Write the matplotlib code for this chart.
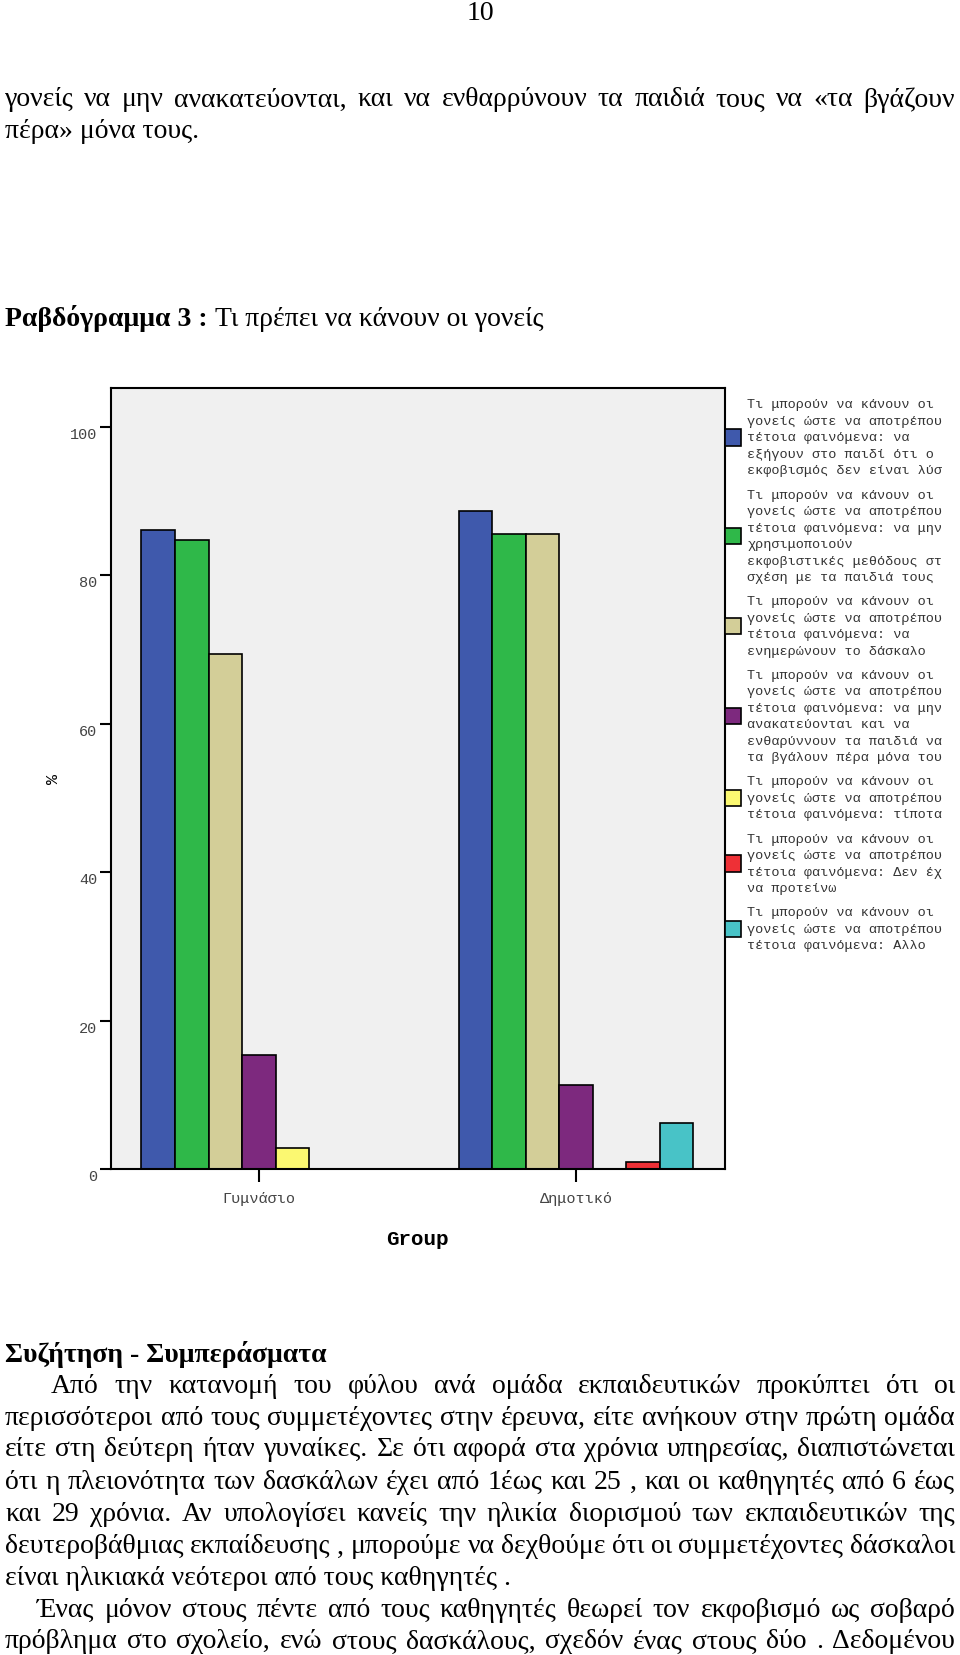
import matplotlib
matplotlib.use("Agg")
import numpy as np
import matplotlib.pyplot as plt
from matplotlib.font_manager import FontProperties

W, H = 960, 1656

# chart data
groups = ["Γυμνάσιο", "Δημοτικό"]
q = "Τι μπορούν να κάνουν οι\nγονείς ώστε να αποτρέπου\nτέτοια φαινόμενα: "
answer_labels = [
    q + "να\nεξήγουν στο παιδί ότι ο\nεκφοβισμός δεν είναι λύσ",
    q + "να μην\nχρησιμοποιούν\nεκφοβιστικές μεθόδους στ\nσχέση με τα παιδιά τους",
    q + "να\nενημερώνουν το δάσκαλο",
    q + "να μην\nανακατεύονται και να\nενθαρύννουν τα παιδιά να\nτα βγάλουν πέρα μόνα του",
    q + "τίποτα",
    q + "Δεν έχ\nνα προτείνω",
    q + "Αλλο",
]
gymnasio_pct = [86.1, 84.7, 69.4, 15.3, 2.8, 0.0, 0.0]
dimotiko_pct = [88.6, 85.5, 85.5, 11.3, 0.0, 1.0, 6.2]
colors = ["#3F59AC", "#2FB849", "#D3CE98", "#7D297E", "#FBF871", "#EE3036", "#48C3C7"]
y_ticks = [0, 20, 40, 60, 80, 100]

# page text around the chart
top_lines = [
    "γονείς να μην ανακατεύονται, και να ενθαρρύνουν τα παιδιά τους να «τα βγάζουν",
    "πέρα» μόνα τους.",
]
para_lines = [
    "Από την κατανομή του φύλου ανά ομάδα εκπαιδευτικών προκύπτει ότι οι",
    "περισσότεροι από τους συμμετέχοντες στην  έρευνα, είτε ανήκουν στην πρώτη ομάδα",
    "είτε στη δεύτερη ήταν γυναίκες. Σε ότι  αφορά στα χρόνια υπηρεσίας, διαπιστώνεται",
    "ότι η  πλειονότητα των δασκάλων έχει από 1έως και 25 ,  και οι καθηγητές  από 6 έως",
    "και 29  χρόνια. Αν υπολογίσει κανείς την ηλικία διορισμού των εκπαιδευτικών της",
    "δευτεροβάθμιας εκπαίδευσης , μπορούμε να δεχθούμε ότι οι συμμετέχοντες δάσκαλοι",
    "είναι ηλικιακά νεότεροι από τους καθηγητές .",
    "Ένας μόνον στους πέντε από τους καθηγητές θεωρεί τον εκφοβισμό ως σοβαρό",
    "πρόβλημα στο σχολείο, ενώ στους  δασκάλους, σχεδόν ένας στους δύο .  Δεδομένου",
]

fig = plt.figure(figsize=(W / 100, H / 100), dpi=100)
renderer = fig.canvas.get_renderer()
FS = 20
serif = dict(family="Liberation Serif", size=FS, color="black")


def text_line(y, s, x0=5, x1=955, justify=True, **kw):
    # one line of page text, stretched to the margins like the word processor does
    if not justify:
        return fig.text(x0 / W, 1 - y / H, s, va="center", ha="left", **kw)
    words = s.split()
    ts = [fig.text(0, 1 - y / H, w, va="center", ha="left", **kw) for w in words]
    ws = [t.get_window_extent(renderer).width for t in ts]
    gap = max((x1 - x0 - sum(ws)) / (len(ws) - 1), 3)
    x = x0
    for t, w in zip(ts, ws):
        t.set_x(x / W)
        x += w + gap


fig.text(480 / W, 1 - 13 / H, "10", ha="center", va="center", **serif)
text_line(100, top_lines[0], **serif)
text_line(132, top_lines[1], justify=False, **serif)

hb = fig.text(5 / W, 1 - 319 / H, "Ραβδόγραμμα 3 :", va="center", ha="left", weight="bold", **serif)
bw = hb.get_window_extent(renderer).width
fig.text((5 + bw + 7) / W, 1 - 319 / H, "Τι πρέπει να κάνουν οι γονείς", va="center", ha="left", **serif)

fig.text(5 / W, 1 - 1355 / H, "Συζήτηση - Συμπεράσματα", va="center", ha="left", weight="bold", **serif)
para_y = [1386.6, 1418.4, 1450, 1482.8, 1514.4, 1547, 1578.8, 1610.5, 1642]
for i, (y, line) in enumerate(zip(para_y, para_lines)):
    x0 = 51 if i == 0 else (37 if i == 7 else 5)
    text_line(y, line, x0=x0, justify=(i != 6), **serif)

# bar chart
ax = fig.add_axes([111 / W, 1 - 1170 / H, (724.5 - 111) / W, (1170 - 388.5) / H])
ax.set_facecolor("#F0F0F0")

x = np.arange(len(groups))
n = len(answer_labels)
width = 0.1057
values = [list(p) for p in zip(gymnasio_pct, dimotiko_pct)]
bars = []
for i, (lab, col) in enumerate(zip(answer_labels, colors)):
    b = ax.bar(x + (i - (n - 1) / 2) * width, values[i], width, color=col,
               edgecolor="black", linewidth=1.2, label=lab)
    bars.append(b)

ax.set_xlim(-0.466, 1.468)
ax.set_ylim(0, 105.3)
ax.set_yticks(y_ticks)
ax.set_xticks(x)
ax.set_xticklabels(groups)
for sp in ax.spines.values():
    sp.set_linewidth(1.5)
ax.tick_params(axis="y", length=8, width=1.5, pad=2, labelsize=11, labelcolor="#444")
ax.tick_params(axis="x", length=9, width=1.5, pad=7, labelsize=11, labelcolor="#444")
for lab in ax.get_xticklabels() + ax.get_yticklabels():
    lab.set_family("Liberation Mono")
for lab in ax.get_yticklabels():
    lab.set_va("top")

ax.set_ylabel("%", fontsize=12, family="Liberation Mono", va="center")
ax.yaxis.set_label_coords(-0.0945, 0.5)
ax.set_xlabel("Group", fontsize=15, family="Liberation Mono", weight="bold", va="center")
ax.xaxis.set_label_coords(0.5, -0.0883)

leg = ax.legend(handles=bars, labels=answer_labels, loc="upper left", bbox_to_anchor=(1.0, 0.986),
                frameon=False, borderaxespad=0, borderpad=0, handlelength=1.2, handleheight=1.5,
                handletextpad=0.5, labelspacing=0.9, labelcolor="#333",
                prop=FontProperties(family="Liberation Mono", size=9.7))
for t in leg.get_texts():
    t.set_linespacing(1.5)

fig.savefig("out.png", dpi=100)
